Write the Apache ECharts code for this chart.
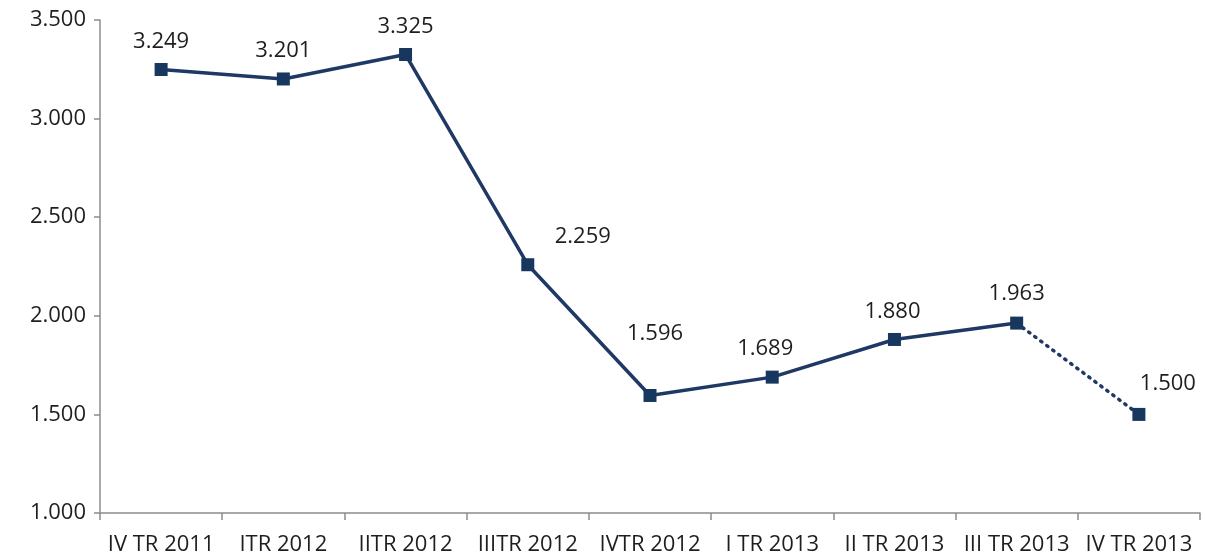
<!DOCTYPE html>
<html>
<head>
<meta charset="utf-8">
<script src="https://cdn.jsdelivr.net/npm/echarts@6/dist/echarts.min.js"></script>
<style>
  html, body { margin: 0; padding: 0; background: #fff; }
  #chart { width: 1205px; height: 557px; }
</style>
</head>
<body>
<div id="chart"></div>
<script>
// Quarterly values (thousands separator '.')
const categories = ['IV TR 2011', 'ITR 2012', 'IITR 2012', 'IIITR 2012', 'IVTR 2012', 'I TR 2013', 'II TR 2013', 'III TR 2013', 'IV TR 2013'];
const values = [3249, 3201, 3325, 2259, 1596, 1689, 1880, 1963, 1500];
const yTicks = [1000, 1500, 2000, 2500, 3000, 3500];

// Label offsets relative to each point
const labelOffsets = [[0, -28], [0, -28], [0, -28], [55, -28], [5, -62], [-7, -28], [-2, -28], [0, -29], [29, -31]];

const fmt = v => {
  const s = String(Math.round(v));
  return s.replace(/\B(?=(\d{3})+(?!\d))/g, '.');
};

const NAVY = '#1f3864';
const MARK = '#17375e';
const TEXT = '#1e1e1e';
const FONT = '"Open Sans", "Noto Sans", sans-serif';
const FS = 22;

// Solid segment covers all points except the final one; dotted segment joins the last two.
const solidData = values.map((v, i) => i < values.length - 1 ? v : null);
const dottedData = values.map((v, i) => i >= values.length - 2 ? v : null);

const labelData = values.map((v, i) => ({
  value: v,
  label: { show: true, position: 'inside', offset: labelOffsets[i] }
}));

const chart = echarts.init(document.getElementById('chart'), null, { renderer: 'canvas' });
chart.setOption({
  animation: false,
  backgroundColor: '#ffffff',
  grid: { left: 100, right: 5, top: 20, bottom: 44, containLabel: false },
  xAxis: {
    type: 'category',
    data: categories,
    boundaryGap: true,
    axisLine: { lineStyle: { color: '#8c8c8c', width: 1.5 } },
    axisTick: { show: true, length: 7, lineStyle: { color: '#8c8c8c', width: 1.5 } },
    axisLabel: { color: TEXT, fontFamily: FONT, fontSize: FS, margin: 21, interval: 0 },
    splitLine: { show: false }
  },
  yAxis: {
    type: 'value',
    min: yTicks[0],
    max: yTicks[yTicks.length - 1],
    interval: 500,
    axisLine: { show: true, lineStyle: { color: '#8c8c8c', width: 1.5 } },
    axisTick: { show: true, length: 6, lineStyle: { color: '#8c8c8c', width: 1.5 } },
    axisLabel: { color: TEXT, fontFamily: FONT, fontSize: FS, margin: 14, formatter: fmt },
    splitLine: { show: false }
  },
  series: [
    {
      type: 'line',
      data: solidData,
      symbol: 'none',
      lineStyle: { color: NAVY, width: 3.5 },
      z: 2
    },
    {
      type: 'line',
      data: dottedData,
      symbol: 'none',
      lineStyle: { color: NAVY, width: 3.5, type: [1.5, 6], cap: 'round' },
      z: 2
    },
    {
      type: 'line',
      data: labelData,
      symbol: 'rect',
      symbolSize: 13,
      itemStyle: { color: MARK },
      lineStyle: { width: 0, opacity: 0 },
      label: {
        show: true,
        color: TEXT,
        fontFamily: FONT,
        fontSize: FS,
        formatter: p => fmt(p.value)
      },
      z: 3
    }
  ]
});
</script>
</body>
</html>
